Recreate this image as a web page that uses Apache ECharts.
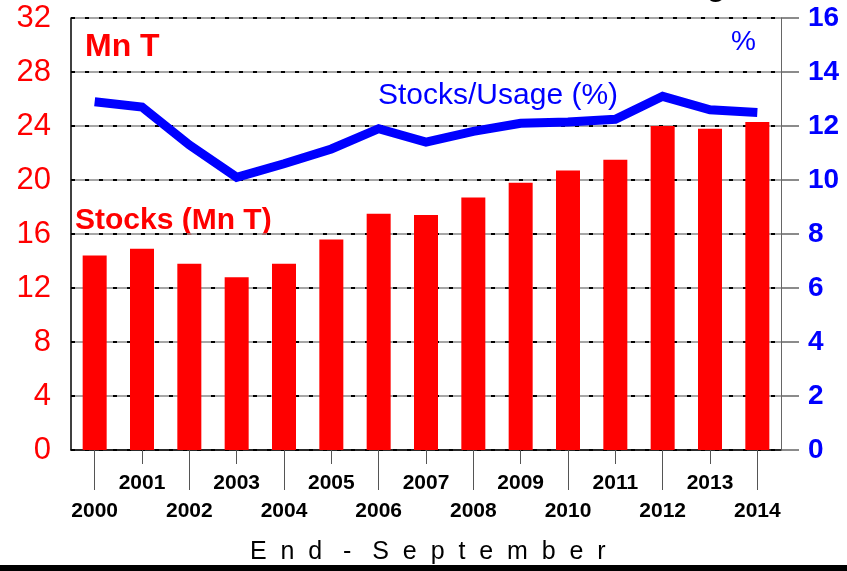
<!DOCTYPE html>
<html>
<head>
<meta charset="utf-8">
<script src="https://cdn.jsdelivr.net/npm/echarts/dist/echarts.min.js"></script>
<style>
  html, body { margin: 0; padding: 0; background: #fff; }
  #chart { width: 847px; height: 571px; }
</style>
</head>
<body>
<div id="chart"></div>
<script>
// years along the bottom (end of September)
var years = ['2000', '2001', '2002', '2003', '2004', '2005', '2006', '2007',
  '2008', '2009', '2010', '2011', '2012', '2013', '2014'];
// stocks, million tonnes (left axis)
var stocks = [14.4, 14.9, 13.8, 12.8, 13.8, 15.6, 17.5, 17.4, 18.7, 19.8, 20.7, 21.5, 24.0, 23.8, 24.3];
// stocks / usage, % (right axis)
var stocksUsage = [12.9, 12.7, 11.3, 10.1, 10.6, 11.15, 11.9, 11.4, 11.8, 12.1, 12.15, 12.25, 13.1, 12.6, 12.5];

var FONT = 'Liberation Sans, Arial, sans-serif';
var chart = echarts.init(document.getElementById('chart'));

var isEven = function (i) { return i % 2 === 0; };
var isOdd = function (i) { return i % 2 === 1; };

var option = {
  animation: false,
  backgroundColor: '#fff',
  grid: { left: 71, right: 66, top: 18, bottom: 121 },
  xAxis: [
    {
      // even years, long ticks, lower row
      type: 'category',
      data: years,
      position: 'bottom',
      axisLine: { show: true, lineStyle: { color: '#000', width: 1.5 } },
      axisTick: { show: true, alignWithLabel: true, interval: isEven, length: 40, lineStyle: { color: '#555' } },
      axisLabel: { interval: isEven, margin: 51, color: '#000', fontWeight: 'bold', fontSize: 21, fontFamily: FONT },
      splitLine: { show: false }
    },
    {
      // odd years, short ticks, upper row
      type: 'category',
      data: years,
      position: 'bottom',
      offset: 0,
      axisLine: { show: false },
      axisTick: { show: true, alignWithLabel: true, interval: isOdd, length: 14, lineStyle: { color: '#555' } },
      axisLabel: { interval: isOdd, margin: 23, color: '#000', fontWeight: 'bold', fontSize: 21, fontFamily: FONT },
      splitLine: { show: false }
    }
  ],
  yAxis: [
    {
      type: 'value',
      min: 0, max: 32, interval: 4,
      position: 'left',
      axisLine: { show: true, lineStyle: { color: '#000', width: 1.5 } },
      axisTick: { show: false },
      axisLabel: { margin: 20, color: '#ff0000', fontSize: 31, fontFamily: FONT },
      splitLine: { show: true, lineStyle: { color: '#8a8a8a', width: 1.5 } }
    },
    {
      type: 'value',
      min: 0, max: 16, interval: 2,
      position: 'right',
      axisLine: { show: true, lineStyle: { color: '#666', width: 1 } },
      axisTick: { show: true, length: 18, lineStyle: { color: '#666', width: 1.5 } },
      axisLabel: { margin: 27, color: '#0000ff', fontWeight: 'bold', fontSize: 28, fontFamily: FONT },
      splitLine: { show: true, lineStyle: { color: '#000', width: 2, type: [4, 10] } }
    }
  ],
  series: [
    {
      name: 'Stocks (Mn T)',
      type: 'bar',
      xAxisIndex: 0,
      yAxisIndex: 0,
      data: stocks,
      barWidth: 24,
      itemStyle: { color: '#ff0000' },
      z: 3
    },
    {
      name: 'Stocks/Usage (%)',
      type: 'line',
      xAxisIndex: 0,
      yAxisIndex: 1,
      data: stocksUsage,
      showSymbol: false,
      symbol: 'none',
      lineStyle: { color: '#0000ff', width: 9, join: 'miter', cap: 'butt' },
      z: 4
    }
  ],
  graphic: [
    {
      // clipped title, only the tail of the last letter shows
      type: 'text', right: 105, top: -27,
      style: { text: 'World Stocks & Stocks/Usage', font: 'bold 30px ' + FONT, fill: '#000' }
    },
    {
      type: 'text', left: 85, top: 31,
      style: { text: 'Mn T', font: 'bold 32px ' + FONT, fill: '#ff0000' }
    },
    {
      type: 'text', left: 731, top: 28,
      style: { text: '%', font: '28px ' + FONT, fill: '#0000ff' }
    },
    {
      type: 'text', left: 378, top: 81,
      style: { text: 'Stocks/Usage (%)', font: '30px ' + FONT, fill: '#0000ff' }
    },
    {
      type: 'text', left: 75, top: 206,
      style: { text: 'Stocks (Mn T)', font: 'bold 30px ' + FONT, fill: '#ff0000' }
    },
    {
      type: 'text', left: 250, top: 540,
      style: { text: 'E  n  d   -   S  e  p  t  e  m  b  e  r', font: '25px ' + FONT, fill: '#000' }
    },
    {
      type: 'rect', left: 0, top: 565,
      shape: { width: 847, height: 6 },
      style: { fill: '#000' }
    }
  ]
};

chart.setOption(option);
</script>
</body>
</html>
